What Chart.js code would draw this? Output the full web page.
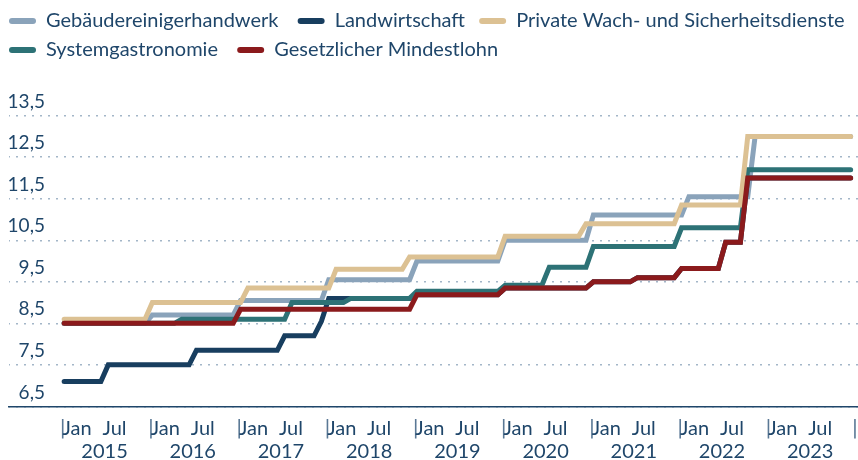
<!DOCTYPE html>
<html><head><meta charset="utf-8">
<script src="https://cdn.jsdelivr.net/npm/chart.js@4.4.0/dist/chart.umd.min.js"></script>
<style>html,body{margin:0;padding:0;background:#fff;}#wrap{width:858px;height:460px;}</style>
</head><body><div id="wrap"><canvas id="c" width="858" height="460"></canvas></div>
<script>
// ---- data ----
const years = [2015, 2016, 2017, 2018, 2019, 2020, 2021, 2022, 2023];
const monthNames = ['Jan','Feb','Mär','Apr','Mai','Jun','Jul','Aug','Sep','Okt','Nov','Dez'];
const yTicks = [6.5, 7.5, 8.5, 9.5, 10.5, 11.5, 12.5, 13.5];
const yTickLabels = ['6,5','7,5','8,5','9,5','10,5','11,5','12,5','13,5'];
const seriesNames = ['Gebäudereinigerhandwerk','Landwirtschaft','Private Wach- und Sicherheitsdienste','Systemgastronomie','Gesetzlicher Mindestlohn'];

const gebaeude = [
  8.5,8.5,8.5,8.5,8.5,8.5,8.5,8.5,8.5,8.5,8.5,8.5,
  8.7,8.7,8.7,8.7,8.7,8.7,8.7,8.7,8.7,8.7,8.7,8.7,
  9.05,9.05,9.05,9.05,9.05,9.05,9.05,9.05,9.05,9.05,9.05,9.05,
  9.55,9.55,9.55,9.55,9.55,9.55,9.55,9.55,9.55,9.55,9.55,9.55,
  10.0,10.0,10.0,10.0,10.0,10.0,10.0,10.0,10.0,10.0,10.0,10.0,
  10.5,10.5,10.5,10.5,10.5,10.5,10.5,10.5,10.5,10.5,10.5,10.5,
  11.11,11.11,11.11,11.11,11.11,11.11,11.11,11.11,11.11,11.11,11.11,11.11,
  11.11,11.55,11.55,11.55,11.55,11.55,11.55,11.55,11.55,11.55,13.0,13.0,
  13.0,13.0,13.0,13.0,13.0,13.0,13.0,13.0,13.0,13.0,13.0,13.0
];
const landwirtschaft = [
  7.1,7.1,7.1,7.1,7.1,7.1,7.5,7.5,7.5,7.5,7.5,7.5,
  7.5,7.5,7.5,7.5,7.5,7.5,7.85,7.85,7.85,7.85,7.85,7.85,
  7.85,7.85,7.85,7.85,7.85,7.85,8.2,8.2,8.2,8.2,8.2,8.55,
  9.1,9.1,9.1,9.1,9.1,9.1,9.1,9.1,9.1,9.1,9.1,9.1,
  9.19,9.19,9.19,9.19,9.19,9.19,9.19,9.19,9.19,9.19,9.19,9.19,
  9.35,9.35,9.35,9.35,9.35,9.35,9.35,9.35,9.35,9.35,9.35,9.35,
  9.5,9.5,9.5,9.5,9.5,9.5,9.6,9.6,9.6,9.6,9.6,9.6,
  9.82,9.82,9.82,9.82,9.82,9.82,10.45,10.45,10.45,12.0,12.0,12.0,
  12.0,12.0,12.0,12.0,12.0,12.0,12.0,12.0,12.0,12.0,12.0,12.0
];
const wachdienste = [
  8.6,8.6,8.6,8.6,8.6,8.6,8.6,8.6,8.6,8.6,8.6,8.6,
  9.0,9.0,9.0,9.0,9.0,9.0,9.0,9.0,9.0,9.0,9.0,9.0,
  9.0,9.35,9.35,9.35,9.35,9.35,9.35,9.35,9.35,9.35,9.35,9.35,
  9.35,9.8,9.8,9.8,9.8,9.8,9.8,9.8,9.8,9.8,9.8,10.1,
  10.1,10.1,10.1,10.1,10.1,10.1,10.1,10.1,10.1,10.1,10.1,10.1,
  10.6,10.6,10.6,10.6,10.6,10.6,10.6,10.6,10.6,10.6,10.6,10.9,
  10.9,10.9,10.9,10.9,10.9,10.9,10.9,10.9,10.9,10.9,10.9,10.9,
  11.35,11.35,11.35,11.35,11.35,11.35,11.35,11.35,11.35,13.0,13.0,13.0,
  13.0,13.0,13.0,13.0,13.0,13.0,13.0,13.0,13.0,13.0,13.0,13.0
];
const systemgastro = [
  8.5,8.5,8.5,8.5,8.5,8.5,8.5,8.5,8.5,8.5,8.5,8.5,
  8.5,8.5,8.5,8.5,8.6,8.6,8.6,8.6,8.6,8.6,8.6,8.6,
  8.6,8.6,8.6,8.6,8.6,8.6,8.6,9.0,9.0,9.0,9.0,9.0,
  9.0,9.0,9.0,9.1,9.1,9.1,9.1,9.1,9.1,9.1,9.1,9.1,
  9.27,9.27,9.27,9.27,9.27,9.27,9.27,9.27,9.27,9.27,9.27,9.27,
  9.42,9.42,9.42,9.42,9.42,9.42,9.85,9.85,9.85,9.85,9.85,9.85,
  10.35,10.35,10.35,10.35,10.35,10.35,10.35,10.35,10.35,10.35,10.35,10.35,
  10.8,10.8,10.8,10.8,10.8,10.8,10.8,10.8,10.8,12.2,12.2,12.2,
  12.2,12.2,12.2,12.2,12.2,12.2,12.2,12.2,12.2,12.2,12.2,12.2
];
const mindestlohn = [
  8.5,8.5,8.5,8.5,8.5,8.5,8.5,8.5,8.5,8.5,8.5,8.5,
  8.5,8.5,8.5,8.5,8.5,8.5,8.5,8.5,8.5,8.5,8.5,8.5,
  8.84,8.84,8.84,8.84,8.84,8.84,8.84,8.84,8.84,8.84,8.84,8.84,
  8.84,8.84,8.84,8.84,8.84,8.84,8.84,8.84,8.84,8.84,8.84,8.84,
  9.19,9.19,9.19,9.19,9.19,9.19,9.19,9.19,9.19,9.19,9.19,9.19,
  9.35,9.35,9.35,9.35,9.35,9.35,9.35,9.35,9.35,9.35,9.35,9.35,
  9.5,9.5,9.5,9.5,9.5,9.5,9.6,9.6,9.6,9.6,9.6,9.6,
  9.82,9.82,9.82,9.82,9.82,9.82,10.45,10.45,10.45,12.0,12.0,12.0,
  12.0,12.0,12.0,12.0,12.0,12.0,12.0,12.0,12.0,12.0,12.0,12.0
];

// ---- build ----
const months = [];
years.forEach(y => monthNames.forEach(m => months.push(m + ' ' + y)));
const toPts = arr => arr.map((v, i) => ({x: i, y: v}));

const TEXT = '#1f466a';
const FONT = 'Lato';
const FS = 20;
const legendSpacer = [2, 1, 0, 2, 0]; // trailing no-break spaces to widen legend gaps

const xTicks = [];
years.forEach((y, k) => {
  xTicks.push({v: 12*k - 0.62, label: '|'});
  xTicks.push({v: 12*k - 0.22, label: 'Jan'});
  xTicks.push({v: 12*k + 5.22, label: 'Jul'});
});
xTicks.push({v: 12*years.length - 0.86, label: '|'});
const yearTicks = years.map((y, k) => ({v: 12*k + 5.5, label: String(y)}));
const isBar = i => xTicks[i] && xTicks[i].label === '|';

// dotted grid pattern
const pc = document.createElement('canvas');
pc.width = 8; pc.height = 4;
const pctx = pc.getContext('2d');
pctx.fillStyle = '#a3b6c8';
pctx.fillRect(0, 0, 2, 4);
const gridPattern = document.getElementById('c').getContext('2d').createPattern(pc, 'repeat');

const mk = (label, data, color, order) => ({
  label, data: toPts(data), borderColor: color, backgroundColor: color,
  borderWidth: 5, pointRadius: 0, pointHoverRadius: 0, tension: 0,
  borderCapStyle: 'round', order
});

const legendGap = {
  id: 'legendGap',
  beforeInit(chart) {
    const orig = chart.legend.fit;
    chart.legend.fit = function () { orig.call(this); this.height += 45.7; };
  }
};

new Chart(document.getElementById('c'), {
  type: 'line',
  data: {
    datasets: [
      mk(seriesNames[0], gebaeude, '#8aa3ba', 4),
      mk(seriesNames[1], landwirtschaft, '#183e5f', 3),
      mk(seriesNames[2], wachdienste, '#dcc193', 1),
      mk(seriesNames[3], systemgastro, '#2d7276', 2),
      mk(seriesNames[4], mindestlohn, '#8b1a1c', 0)
    ]
  },
  options: {
    responsive: false, animation: false, devicePixelRatio: 1,
    layout: {padding: {left: 0, right: 0, top: 2, bottom: 0}},
    plugins: {
      tooltip: {enabled: false},
      legend: {
        position: 'top', align: 'start',
        labels: {
          font: {family: FONT, size: FS}, color: TEXT,
          boxWidth: 27, boxHeight: 6, padding: 9,
          useBorderRadius: true, borderRadius: 3,
          generateLabels(chart) {
            return Chart.defaults.plugins.legend.labels.generateLabels(chart).map(it =>
              Object.assign(it, {lineWidth: 0, text: it.text + '\u00a0'.repeat(legendSpacer[it.datasetIndex])}));
          },
          sort: (a, b) => a.datasetIndex - b.datasetIndex
        }
      }
    },
    scales: {
      x: {
        type: 'linear', position: 'bottom', min: -7.5, max: 108.0, bounds: 'data', weight: 0,
        grid: {display: false, drawTicks: false},
        border: {display: true, color: TEXT, width: 1.5},
        afterBuildTicks(axis) { axis.ticks = xTicks.map(t => ({value: t.v})); },
        afterFit(scale) { scale.paddingLeft = 0; scale.paddingRight = 0; scale.height = 25; },
        ticks: {
          autoSkip: false, maxRotation: 0, minRotation: 0, align: 'start',
          mirror: true, padding: -23.1,
          font: ctx => isBar(ctx.index)
            ? {family: 'DejaVu Sans', size: 19, lineHeight: 0.05}
            : {family: FONT, size: FS, lineHeight: 0.05},
          color: ctx => isBar(ctx.index) ? '#5a7895' : TEXT,
          callback: (v, i) => xTicks[i].label
        }
      },
      xYear: {
        type: 'linear', position: 'bottom', min: -7.5, max: 108.0, bounds: 'data', weight: 1,
        grid: {display: false, drawTicks: false},
        border: {display: false},
        afterBuildTicks(axis) { axis.ticks = yearTicks.map(t => ({value: t.v})); },
        afterFit(scale) { scale.paddingLeft = 0; scale.paddingRight = 0; scale.height = 28.6; },
        ticks: {
          autoSkip: false, maxRotation: 0, minRotation: 0, align: 'center',
          mirror: true, padding: -21.1,
          font: {family: FONT, size: FS, lineHeight: 0.05}, color: TEXT,
          callback: (v, i) => yearTicks[i].label
        }
      },
      y: {
        type: 'linear', position: 'left', min: 6.5, max: 13.5, bounds: 'data',
        afterBuildTicks(axis) { axis.ticks = yTicks.map(v => ({value: v})); },
        afterFit(scale) { scale.width = 9; scale.paddingTop = 0; scale.paddingBottom = 0; },
        grid: {color: gridPattern, lineWidth: 1.5, drawTicks: false},
        border: {display: false},
        ticks: {
          mirror: true, crossAlign: 'far', padding: -1.4, labelOffset: -14,
          font: {family: FONT, size: 19}, color: TEXT,
          callback: (v, i) => yTickLabels[i]
        }
      }
    }
  },
  plugins: [legendGap]
});
</script></body></html>
